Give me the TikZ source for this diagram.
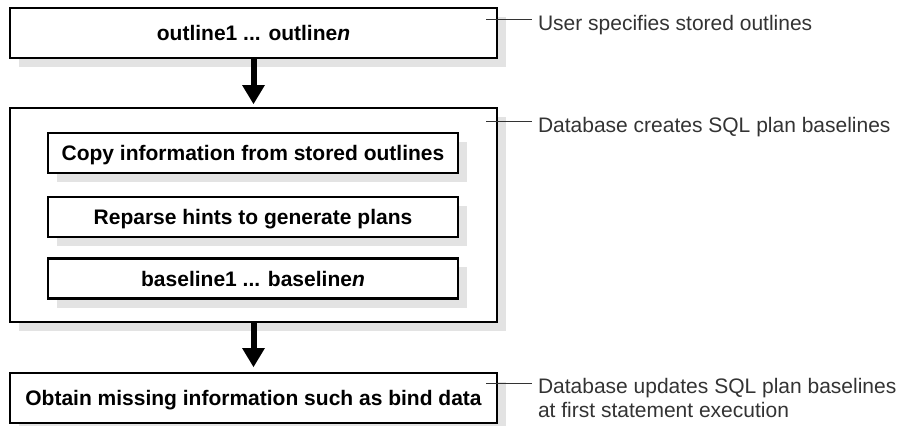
\documentclass[tikz,border=0pt]{standalone}
\usepackage{fontspec}
\setmainfont{Liberation Sans}
\usetikzlibrary{arrows.meta,shadows}
\definecolor{shadowgray}{gray}{0.89}
\definecolor{notegray}{gray}{0.2}
\begin{document}
\begin{tikzpicture}[x=1pt,y=-1pt,
  box/.style={draw=black, line width=2.9pt, fill=white, inner sep=0pt, outer sep=0pt,
    minimum width=487pt, minimum height=50pt,
    font=\fontsize{21}{25}\selectfont\bfseries, text height=15pt, text depth=0pt,
    drop shadow={shadow xshift=9pt, shadow yshift=-9pt, fill=shadowgray, opacity=1}},
  inbox/.style={box, minimum width=410pt, minimum height=40pt,
    drop shadow={shadow xshift=8.5pt, shadow yshift=-8.5pt, fill=shadowgray, opacity=1}},
  flow/.style={line width=6pt, -{Triangle[width=23pt,length=19pt,line width=0pt]}},
  note/.style={font=\fontsize{21}{25}\selectfont, text=notegray, inner xsep=6pt, inner ysep=0pt,
    outer sep=0pt, anchor=base west},
  callout/.style={line width=1pt, draw=notegray}]
\useasboundingbox (0,0) rectangle (906,426);

\node[box] (b1) at (253.5,33) {outline1 ... outline\textit{n}};
\node[box, minimum height=214pt] (b2) at (253.5,215) {};
\node[inbox] (ia) at (253,153) {Copy information from stored outlines};
\node[inbox] (ib) at (253,217) {Reparse hints to generate plans};
\node[inbox] (ic) at (253,278.5) {baseline1 ... baseline\textit{n}};
\node[box] (b3) at (253.5,398) {Obtain missing information such as bind data};

\draw[flow, shorten >=4pt] (b1) -- (b2);
\draw[flow, shorten >=6pt] (b2) -- (b3);

\coordinate (c1) at (486,19);
\coordinate (c2) at (486,121);
\coordinate (c3) at (486,383);
\node[note] (t1) at (532,30.5) {User specifies stored outlines};
\node[note] (t2) at (532,132) {Database creates SQL plan baselines};
\node[note] (t3) at (532,393) {Database updates SQL plan baselines};
\node[note] (t3b) at (532,417) {at first statement execution};
\draw[callout] (c1) -- (c1 -| t1.west);
\draw[callout] (c2) -- (c2 -| t2.west);
\draw[callout] (c3) -- (c3 -| t3.west);
\end{tikzpicture}
\end{document}
